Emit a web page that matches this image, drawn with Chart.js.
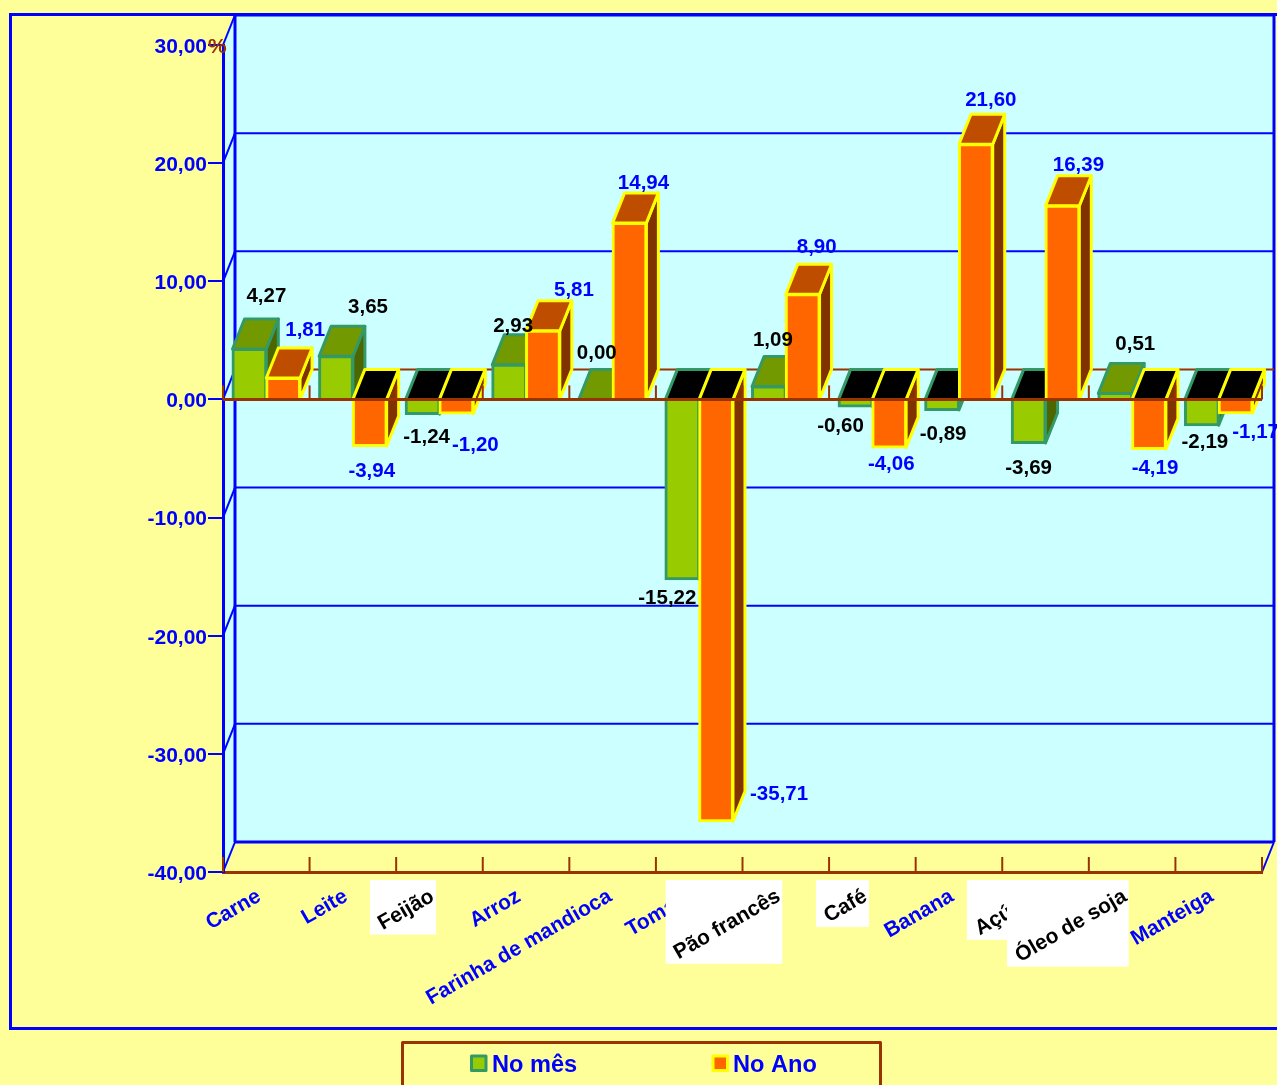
<!DOCTYPE html>
<html lang="pt">
<head>
<meta charset="utf-8">
<title>No mês / No Ano</title>
<style>html,body{margin:0;padding:0;background:#FFFF99;overflow:hidden}canvas{display:block}</style>
<script src="https://cdn.jsdelivr.net/npm/chart.js@4"></script>
</head>
<body>
<canvas id="c" width="1277" height="1085"></canvas>
<script>
const categories = ["Carne","Leite","Feijão","Arroz","Farinha de mandioca","Tomate","Pão francês","Café","Banana","Açúcar","Óleo de soja","Manteiga"];
const noMes = [4.27,3.65,-1.24,2.93,0.00,-15.22,1.09,-0.60,-0.89,-3.69,0.51,-2.19];
const noAno = [1.81,-3.94,-1.20,5.81,14.94,-35.71,8.90,-4.06,21.60,16.39,-4.19,-1.17];
const yMin = -40, yMax = 30, yStep = 10;
// Hand placed value labels in the reference: offsets from the bar's end
const mesLabelDx = [17,32,4,4,1,-15,4,-15,1,0,20,3];
const mesLabelDy = [-55,-51,21,-40,-48,17,-48,18,22,23,-51,15];
const anoLabelDx = [22,2,19,31,14,63,14,2,15,16,6,20];
const anoLabelDy = [-50,23,30,-42,-42,-29,-49,15,-46,-42,17,17];
// Category labels pasted with a white box in the reference
const whiteBoxLabels = ["Feijão","Pão francês","Café","Açúcar","Óleo de soja"];
const categoryLabelNudge = [0,0,0,0,4.5,-1,0,0,0,0,0,0];

const FONT = '"Liberation Sans", Arial, sans-serif';
const BLUE = '#0000FF', BROWN = '#993300', PAGE = '#FFFF99', WALL = '#CCFFFF';
const DX = 12, DY = 30;
const STYLES = [
  {fill:'#99CC00', border:'#339966', top:'#739900', side:'#4D6600', text:'#000000', dxs:mesLabelDx, dys:mesLabelDy},
  {fill:'#FF6600', border:'#FFFF00', top:'#BF4D00', side:'#803300', text:BLUE, dxs:anoLabelDx, dys:anoLabelDy}
];
const fmt = v => v.toFixed(2).replace('.', ',');

function line(ctx, x0, y0, x1, y1, color, w){
  ctx.strokeStyle = color; ctx.lineWidth = w;
  ctx.beginPath(); ctx.moveTo(x0,y0); ctx.lineTo(x1,y1); ctx.stroke();
}
function poly(ctx, pts, fill, stroke, w){
  ctx.beginPath();
  pts.forEach((p,i)=> i ? ctx.lineTo(p[0],p[1]) : ctx.moveTo(p[0],p[1]));
  ctx.closePath();
  ctx.fillStyle = fill; ctx.fill();
  ctx.strokeStyle = stroke; ctx.lineWidth = w; ctx.lineJoin = 'round'; ctx.stroke();
}

const scene = {
  id: 'scene',
  beforeDraw(chart){
    const {ctx, chartArea:a, scales:{y}} = chart;
    const W = chart.width, H = chart.height;
    ctx.save();
    ctx.fillStyle = PAGE; ctx.fillRect(0,0,W,H);
    // outer frame (runs past the right edge of the picture)
    ctx.strokeStyle = BLUE; ctx.lineWidth = 3;
    ctx.strokeRect(10.5, 14.5, W + 20, 1014);
    // left wall and back wall
    ctx.fillStyle = WALL;
    ctx.beginPath();
    ctx.moveTo(a.left, a.top); ctx.lineTo(a.left+DX, a.top-DY);
    ctx.lineTo(a.left+DX, a.bottom-DY); ctx.lineTo(a.left, a.bottom); ctx.closePath(); ctx.fill();
    ctx.fillRect(a.left+DX, a.top-DY, a.right-a.left, a.bottom-a.top);
    // grid on the back wall, with its step on the left wall
    y.ticks.forEach(t=>{
      const py = y.getPixelForValue(t.value);
      line(ctx, a.left, py, a.left+DX, py-DY, BLUE, 2);
      if (t.value > yMin && t.value < yMax && t.value !== 0)
        line(ctx, a.left+DX, py-DY, a.right+DX, py-DY, BLUE, 2);
    });
    line(ctx, a.left+DX, a.top-DY, a.right+DX, a.top-DY, BLUE, 3);
    line(ctx, a.left+DX, a.bottom-DY, a.right+DX, a.bottom-DY, BLUE, 3);
    line(ctx, a.left+DX, a.top-DY, a.left+DX, a.bottom-DY, BLUE, 3);
    line(ctx, a.right+DX, a.top-DY, a.right+DX, a.bottom-DY, BLUE, 3);
    line(ctx, a.right, a.bottom, a.right+DX, a.bottom-DY, BLUE, 2);
    // zero plane, back edge
    const z = y.getPixelForValue(0);
    line(ctx, a.left+DX, z-DY, a.right+DX, z-DY, BROWN, 2);
    ctx.restore();
  },
  beforeDatasetDraw(){ return false; },
  afterDatasetsDraw(chart){
    const {ctx, chartArea:a, scales:{x,y}} = chart;
    const z = y.getPixelForValue(0);
    ctx.save();
    // bars: green series first, orange over it
    STYLES.forEach((s,d)=>{
      const meta = chart.getDatasetMeta(d);
      meta.data.forEach(el=>{
        const x0 = el.x - el.width/2, x1 = el.x + el.width/2;
        const top = Math.min(el.y, z), bottom = Math.max(el.y, z);
        const neg = el.y > z;
        poly(ctx, [[x1,top],[x1+DX,top-DY],[x1+DX,bottom-DY],[x1,bottom]], s.side, s.border, 3);
        poly(ctx, [[x0,top],[x0+DX,top-DY],[x1+DX,top-DY],[x1,top]], neg ? '#000000' : s.top, s.border, 3);
      });
      meta.data.forEach(el=> el.draw(ctx));
    });
    // zero line and category ticks, front edge
    line(ctx, a.left, z, a.right, z, BROWN, 3);
    const step = (a.right-a.left)/categories.length;
    for (let i=0;i<=categories.length;i++){
      const px = i<categories.length ? x.getPixelForValue(i)-step/2 : x.getPixelForValue(i-1)+step/2;
      line(ctx, px, a.bottom-15, px, a.bottom, BROWN, 2);
      line(ctx, px, z-14, px, z, BROWN, 2);
    }
    // value labels
    ctx.font = 'bold 20.5px '+FONT;
    ctx.textAlign = 'center'; ctx.textBaseline = 'middle';
    STYLES.forEach((s,d)=>{
      chart.getDatasetMeta(d).data.forEach((el,i)=>{
        ctx.fillStyle = s.text;
        ctx.fillText(fmt(chart.data.datasets[d].data[i]), el.x+s.dxs[i], el.y+s.dys[i]+2);
      });
    });
    // category labels, rotated; later white boxes hide earlier labels
    ctx.font = 'bold 21px '+FONT;
    const ang = -30*Math.PI/180;
    categories.forEach((c,i)=>{
      const cx = x.getPixelForValue(i);
      const ax = cx-7, ay = a.bottom+23;
      const w = ctx.measureText(c).width, h = 21;
      const white = whiteBoxLabels.includes(c);
      if (white){
        const bw = w*Math.cos(ang)+h*Math.sin(-ang), bh = w*Math.sin(-ang)+h*Math.cos(ang);
        ctx.fillStyle = '#FFFFFF';
        ctx.fillRect(cx-6.5-bw, a.bottom+8, bw+3, bh+6);
      }
      ctx.save();
      ctx.translate(ax+categoryLabelNudge[i], ay); ctx.rotate(ang);
      ctx.textAlign = 'right'; ctx.textBaseline = 'middle';
      ctx.fillStyle = white ? '#000000' : BLUE;
      ctx.fillText(c, 0, 0);
      ctx.restore();
    });
    // unit
    ctx.font = 'bold 21px '+FONT; ctx.textAlign='left'; ctx.textBaseline='middle';
    ctx.fillStyle = BROWN;
    ctx.fillText('%', 208, a.top+2);
    // legend
    ctx.strokeStyle = BROWN; ctx.lineWidth = 3;
    ctx.strokeRect(402.5, 1042.5, 478, 100);
    ctx.font = 'bold 23.6px '+FONT; ctx.textBaseline='middle';
    [[471.5,492],[713,733]].forEach((p,d)=>{
      const s = STYLES[d];
      ctx.fillStyle = s.fill; ctx.fillRect(p[0],1056,14.5,14.5);
      ctx.strokeStyle = s.border; ctx.lineWidth = 3; ctx.strokeRect(p[0],1056,14.5,14.5);
      ctx.fillStyle = BLUE;
      ctx.fillText(chart.data.datasets[d].label, p[1], 1065);
    });
    ctx.restore();
  }
};

new Chart(document.getElementById('c'), {
  type: 'bar',
  data: {
    labels: categories,
    datasets: [
      {label:'No mês', data:noMes, backgroundColor:STYLES[0].fill, borderColor:STYLES[0].border, borderWidth:3, borderSkipped:'start', inflateAmount:1},
      {label:'No Ano', data:noAno, backgroundColor:STYLES[1].fill, borderColor:STYLES[1].border, borderWidth:3, borderSkipped:'start', inflateAmount:1}
    ]
  },
  options: {
    responsive:false, animation:false, events:[],
    layout:{padding:{left:10,right:15,top:45,bottom:0}},
    datasets:{bar:{categoryPercentage:0.78, barPercentage:1}},
    plugins:{legend:{display:false}, tooltip:{enabled:false}, title:{display:false}},
    scales:{
      x:{
        grid:{display:false},
        border:{display:true,color:BROWN,width:3},
        ticks:{display:false},
        afterFit(s){ s.height = 213; }
      },
      y:{
        min:yMin, max:yMax,
        afterFit(s){ s.width = 213; },
        grid:{drawOnChartArea:false, drawTicks:true, tickLength:15, color:BLUE, lineWidth:2},
        border:{display:true,color:BLUE,width:3},
        ticks:{stepSize:yStep, padding:1, labelOffset:2, color:BLUE, font:{family:FONT,size:21,weight:'bold'}, callback:v=>fmt(v)}
      }
    }
  },
  plugins:[scene]
});
</script>
</body>
</html>
